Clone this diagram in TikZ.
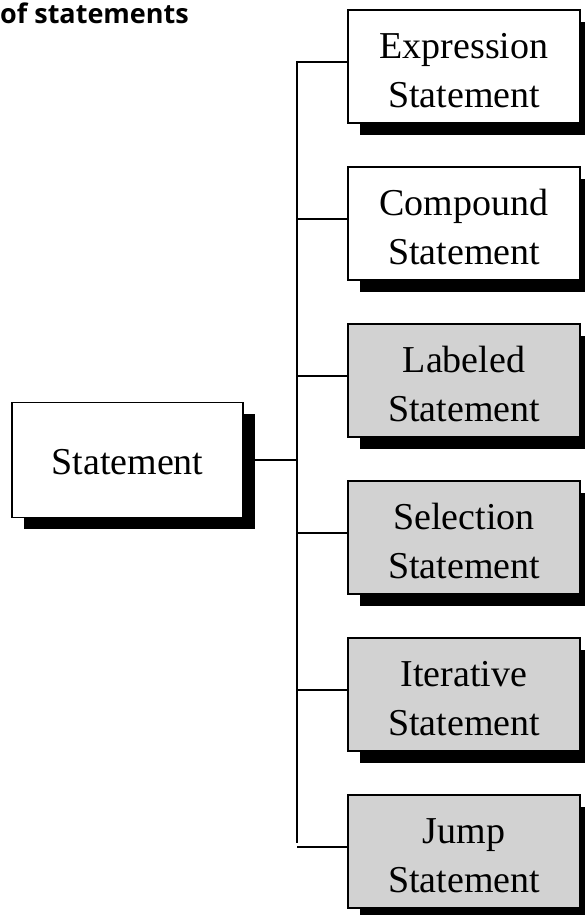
\documentclass[tikz,border=0pt]{standalone}
\usepackage{fontspec}
\setmainfont{Liberation Serif}
\newfontfamily\titlefont{Open Sans}
\usetikzlibrary{shadows}
\definecolor{boxgray}{RGB}{210,210,210}
\begin{document}
\begin{tikzpicture}[x=1pt,y=1pt,
  box/.style={draw=black, line width=1.8pt, fill=white, minimum width=232pt, minimum height=113pt,
    inner sep=0pt,
    drop shadow={shadow xshift=12pt, shadow yshift=-12pt, opacity=1, fill=black}},
  gbox/.style={box, fill=boxgray},
  txt/.style={inner sep=0pt, align=center, font=\fontsize{38}{49}\selectfont},
  link/.style={line width=2pt}]
\useasboundingbox (0,0) rectangle (584,915);
\node[anchor=base west, inner sep=0pt, font=\titlefont\bfseries\fontsize{27}{32}\selectfont] (title) at (0,891) {of statements};
\node[box, minimum width=231pt, minimum height=115pt] (st) at (127.5,455) {};
\node[txt] (stt) at ([yshift=-2.5pt]st.center) {Statement};
\node[box]  (e1) at (464,848.5) {};
\node[box]  (e2) at (464,691.5) {};
\node[gbox] (e3) at (464,534.5) {};
\node[gbox] (e4) at (464,377.5) {};
\node[gbox] (e5) at (464,220.5) {};
\node[gbox] (e6) at (464,63.5) {};
\node[txt] (t1) at ([yshift=-4pt]e1.center) {Expression\\Statement};
\node[txt] (t2) at ([yshift=-4pt]e2.center) {Compound\\Statement};
\node[txt] (t3) at ([yshift=-4pt]e3.center) {Labeled\\Statement};
\node[txt] (t4) at ([yshift=-4pt]e4.center) {Selection\\Statement};
\node[txt] (t5) at ([yshift=-4pt]e5.center) {Iterative\\Statement};
\node[txt] (t6) at ([yshift=-4pt]e6.center) {Jump\\Statement};
\coordinate (bt) at (297,854);
\coordinate (bb) at (297,72);
\draw[link] (bt) -- (bb);
\draw[link] (st.east) -- (st.east -| bt);
\foreach \n in {e1,e2,e3,e4,e5,e6}{
  \coordinate (j) at ([yshift=4.5pt]\n.west);
  \draw[link] (j) -- (j -| bt);
}
\end{tikzpicture}
\end{document}
